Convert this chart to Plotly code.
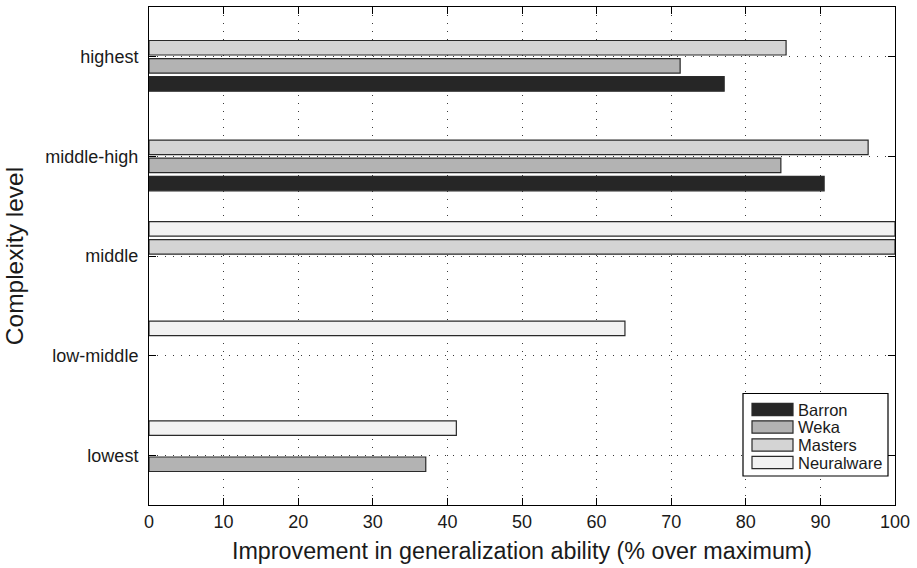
import plotly.graph_objects as go

categories = ["lowest", "low-middle", "middle", "middle-high", "highest"]
series_names = ["Barron", "Weka", "Masters", "Neuralware"]
barron = [0, 0, 0, 90.5, 77.1]
weka = [37.1, 0, 0, 84.7, 71.2]
masters = [0, 0, 100, 96.4, 85.4]
neuralware = [41.2, 63.8, 100, 0, 0]
series_values = [barron, weka, masters, neuralware]
colors = ["#262626", "#b3b3b3", "#d4d4d4", "#f2f2f2"]

FONT = "Liberation Sans, Arial, Helvetica, sans-serif"
W, H = 917, 568
L, R, T, B = 149, 22, 7, 63

fig = go.Figure()
for name, vals, col in zip(series_names, series_values, colors):
    fig.add_trace(go.Bar(
        y=categories, x=[v if v else None for v in vals], name=name, orientation="h",
        marker=dict(color=col, line=dict(color="#2a2a2a", width=1.2)),
        showlegend=False,
    ))

axis_common = dict(
    showline=True, linecolor="black", linewidth=1, mirror="ticks",
    ticks="inside", ticklen=7, tickcolor="black", tickwidth=1,
    showgrid=True, gridcolor="#3a3a3a", gridwidth=1, griddash="1px,7px",
    zeroline=False,
    tickfont=dict(family=FONT, size=18, color="#1a1a1a"),
)

fig.update_layout(
    width=W, height=H,
    margin=dict(l=L, r=R, t=T, b=B),
    paper_bgcolor="white", plot_bgcolor="white",
    barmode="group", bargap=0.273, bargroupgap=0.2,
    font=dict(family=FONT, color="#1a1a1a"),
    xaxis=dict(range=[0, 100], tickvals=list(range(0, 101, 10)),
               title=dict(text="Improvement in generalization ability (% over maximum)",
                          font=dict(family=FONT, size=23.3, color="#1a1a1a"), standoff=12),
               **axis_common),
    yaxis=dict(type="category", categoryorder="array", categoryarray=categories,
               range=[-0.5, 4.5], ticklabelstandoff=6,
               title=dict(text="Complexity level",
                          font=dict(family=FONT, size=24.5, color="#1a1a1a"), standoff=14),
               **axis_common),
)

# manual legend (MATLAB style) in paper coordinates
pw = W - L - R
ph = H - T - B
def px(x):
    return (x - L) / pw
def py(y):
    return (H - B - y) / ph

fig.add_shape(type="rect", xref="paper", yref="paper",
              x0=px(743), x1=px(888), y0=py(476), y1=py(393.5),
              line=dict(color="black", width=1.2), fillcolor="white", layer="above")
row_y = [409.5, 427, 445, 462.5]
for name, col, yc in zip(series_names, colors, row_y):
    fig.add_shape(type="rect", xref="paper", yref="paper",
                  x0=px(752), x1=px(793), y0=py(yc + 6.2), y1=py(yc - 6.2),
                  line=dict(color="#2a2a2a", width=1.2), fillcolor=col, layer="above")
    fig.add_annotation(xref="paper", yref="paper", x=px(796), y=py(yc),
                       text=name, showarrow=False, xanchor="left", yanchor="middle",
                       font=dict(family=FONT, size=16.5, color="#1a1a1a"))

fig.write_html("out.html")
